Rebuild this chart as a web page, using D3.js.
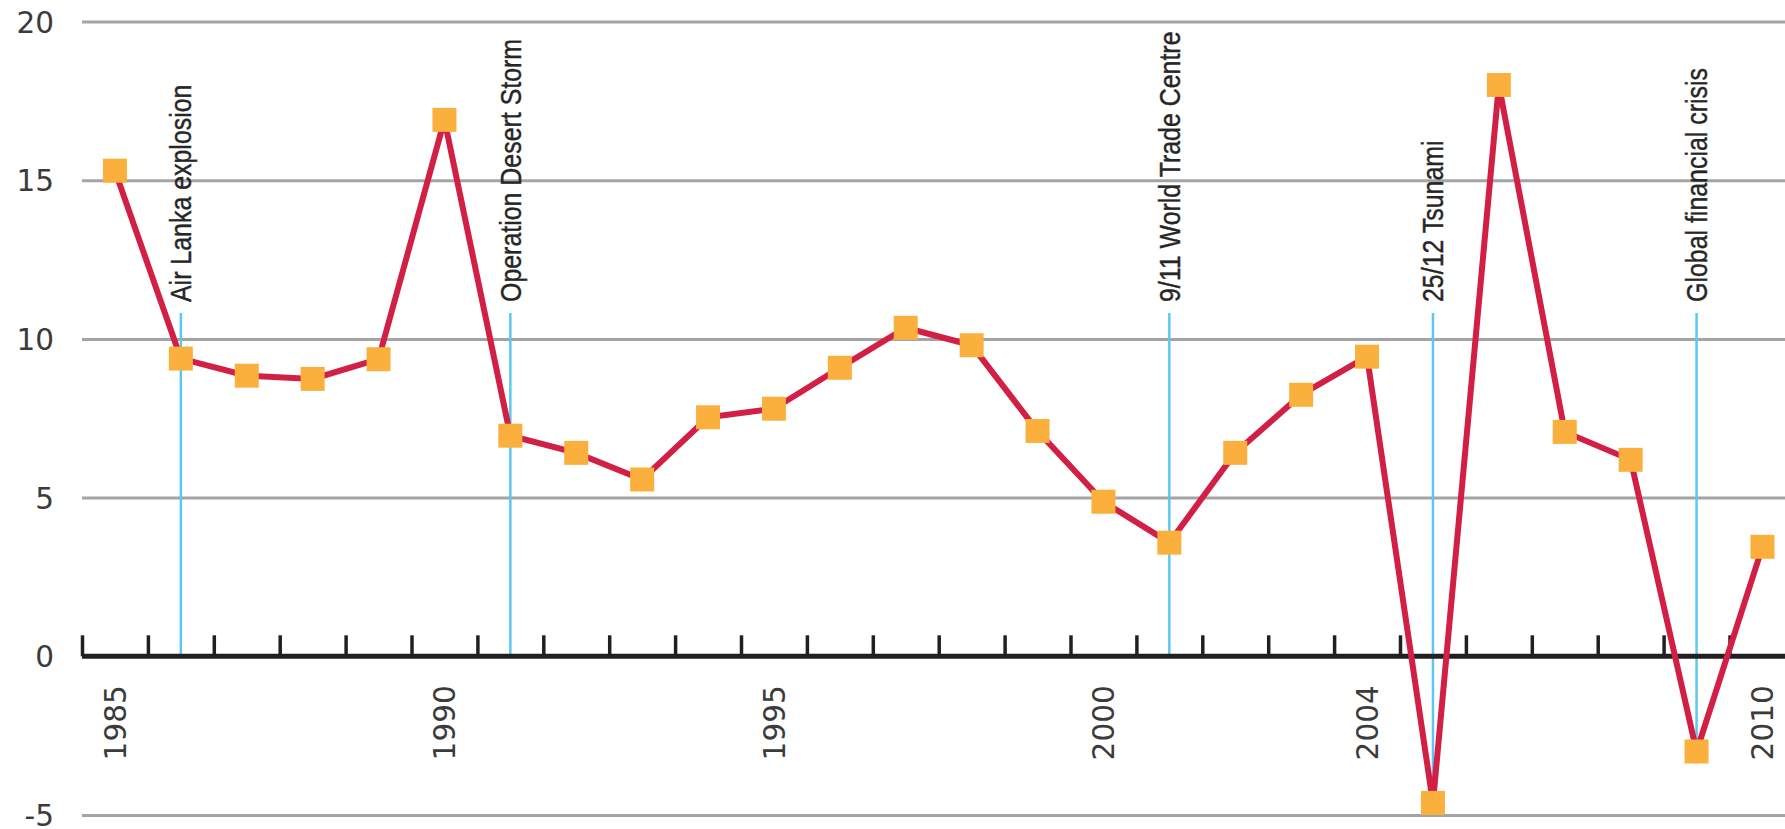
<!DOCTYPE html>
<html>
<head>
<meta charset="utf-8">
<script src="https://cdn.jsdelivr.net/npm/d3@7"></script>
<style>
  body { margin: 0; background: #fff; }
  .num text { font-family: "DejaVu Sans", sans-serif; font-size: 29.5px; fill: #3b3b3b; }
  .event-label { font-family: "Liberation Sans", Arial, sans-serif; font-size: 29.5px; fill: #262626;
                 stroke: #262626; stroke-width: 0.4; }
</style>
</head>
<body>
<svg id="chart" width="1785" height="829"></svg>
<script>
// annual growth
var years = [1985, 1986, 1987, 1988, 1989, 1990, 1991, 1992, 1993, 1994, 1995, 1996, 1997,
             1998, 1999, 2000, 2001, 2002, 2003, 2004, 2005, 2006, 2007, 2008, 2009, 2010];
var growth = [15.3, 9.38, 8.84, 8.74, 9.36, 16.9, 6.95, 6.41, 5.57, 7.53, 7.8, 9.09, 10.35,
              9.8, 7.1, 4.87, 3.58, 6.41, 8.24, 9.44, -4.62, 18.0, 7.07, 6.19, -3.0, 3.45];

var yTicks = [-5, 0, 5, 10, 15, 20];
var yearLabels = [1985, 1990, 1995, 2000, 2004, 2010];

var eventYears = [1986, 1991, 2001, 2005, 2009];
var eventNames = ["Air Lanka explosion", "Operation Desert Storm", "9/11 World Trade Centre",
                  "25/12 Tsunami", "Global financial crisis"];

var width = 1785, height = 829;
var left = 82;

var x = d3.scaleLinear().domain([1984.5, 2010.5]).range([left, left + 26 * 65.9]);
var y = d3.scaleLinear().domain([-5, 20]).range([815, 21.5]);

var svg = d3.select("#chart");

// gridlines + y labels
var yAxis = svg.append("g")
    .attr("class", "num")
    .attr("transform", "translate(" + left + ",0)")
    .call(d3.axisLeft(y)
      .tickValues(yTicks)
      .tickSize(-(width - left))
      .tickPadding(28)
      .tickFormat(function(d) { return String(d); }));
yAxis.select(".domain").remove();
yAxis.selectAll(".tick line")
    .attr("stroke", "#a4a4a4")
    .attr("stroke-width", 3)
    .attr("display", function(d) { return d === 0 ? "none" : null; });
yAxis.selectAll(".tick text").attr("dy", "0.36em");

// event markers
var ev = svg.append("g");
eventYears.forEach(function(yr, i) {
  var v = growth[years.indexOf(yr)];
  ev.append("line")
      .attr("x1", x(yr)).attr("x2", x(yr))
      .attr("y1", 313).attr("y2", y(Math.min(0, v)))
      .attr("stroke", "#5cc8f2")
      .attr("stroke-width", 2.5);
  ev.append("text")
      .attr("class", "event-label")
      .attr("transform", "translate(" + (x(yr) + 10.5) + ",302) rotate(-90) scale(0.845,1)")
      .attr("text-anchor", "start")
      .text(eventNames[i]);
});

// zero axis with ticks on year boundaries
var tickPos = years.map(function(d) { return d - 0.5; });
var zeroAxis = svg.append("g")
    .attr("transform", "translate(0," + y(0) + ")")
    .call(d3.axisBottom(x)
      .tickValues(tickPos)
      .tickSize(-21)
      .tickSizeOuter(0)
      .tickFormat(""));
zeroAxis.select(".domain")
    .attr("d", "M" + x(1984.5) + ",0H" + width)
    .attr("stroke", "#231f20")
    .attr("stroke-width", 5);
zeroAxis.selectAll(".tick line")
    .attr("stroke", "#231f20")
    .attr("stroke-width", 3.5);

// rotated year labels
var xLab = svg.append("g")
    .attr("class", "num")
    .attr("transform", "translate(0," + y(0) + ")")
    .call(d3.axisBottom(x).tickValues(yearLabels).tickSize(0).tickFormat(function(d) { return String(d); }));
xLab.select(".domain").remove();
xLab.selectAll(".tick text")
    .attr("text-anchor", "end")
    .attr("transform", "translate(10.5,29) rotate(-90)")
    .attr("x", 0).attr("y", 0).attr("dy", 0);

// series
var line = d3.line()
    .x(function(d, i) { return x(years[i]); })
    .y(function(d) { return y(d); });

svg.append("path")
    .datum(growth)
    .attr("fill", "none")
    .attr("stroke", "#d21f45")
    .attr("stroke-width", 6)
    .attr("d", line);

svg.append("g").selectAll("rect")
    .data(growth)
  .enter().append("rect")
    .attr("x", function(d, i) { return x(years[i]) - 12; })
    .attr("y", function(d) { return y(d) - 12; })
    .attr("width", 24)
    .attr("height", 24)
    .attr("fill", "#fbb03e");
</script>
</body>
</html>
